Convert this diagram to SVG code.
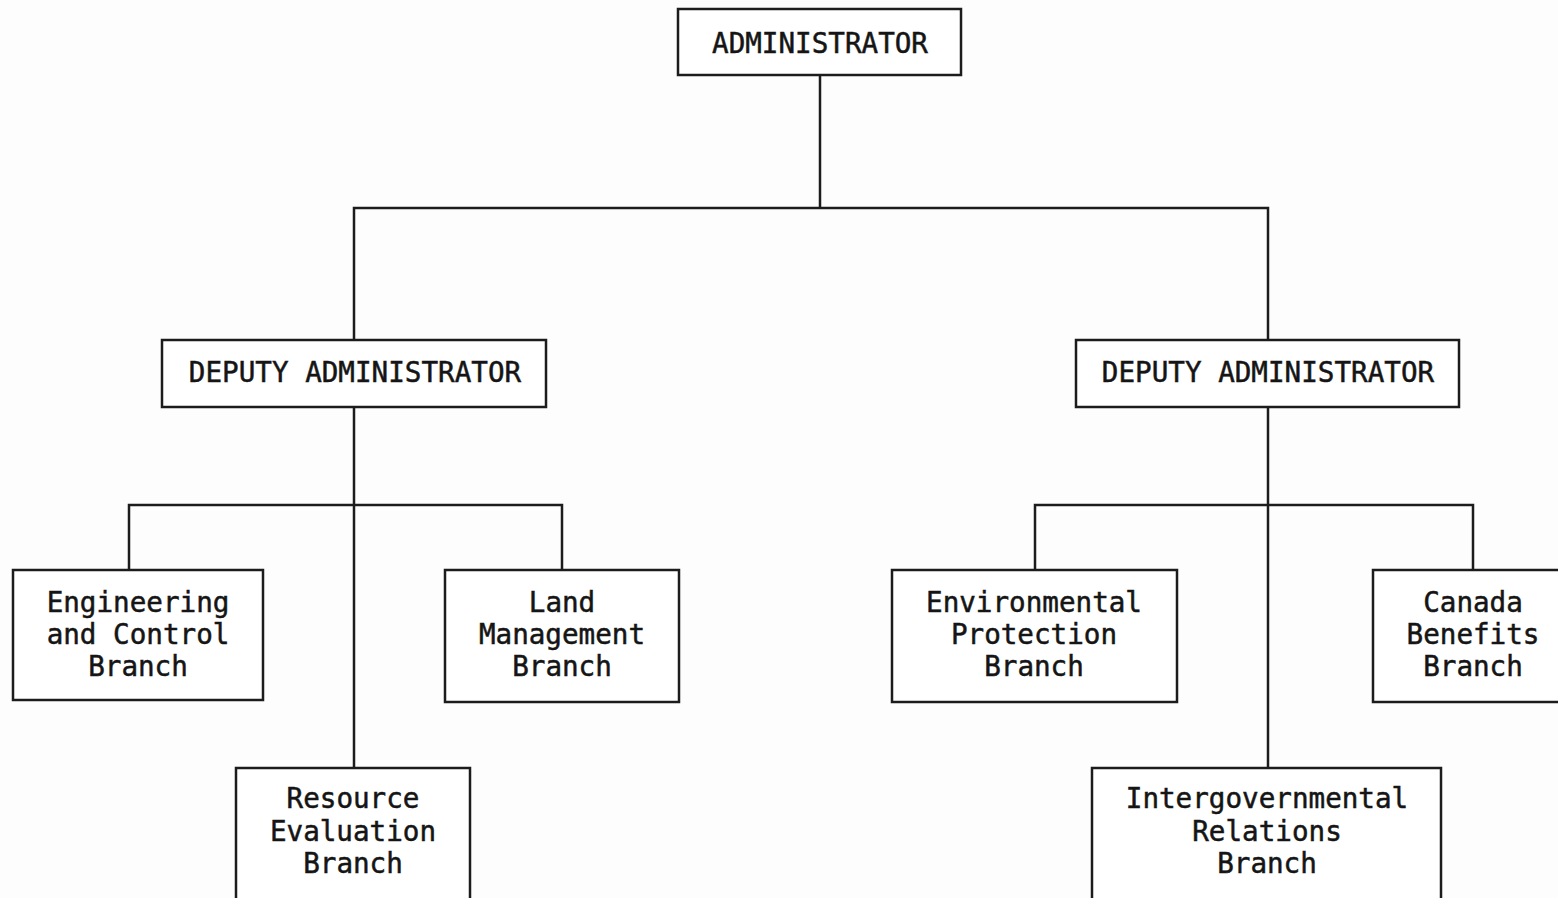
<svg xmlns="http://www.w3.org/2000/svg" width="1558" height="898" viewBox="0 0 1558 898">
  <style>
    .box { fill: #ffffff; stroke: #1c1c1c; stroke-width: 2.5; }
    .link { fill: none; stroke: #1c1c1c; stroke-width: 2.5; stroke-linecap: square; }
    .lbl { font-family: "DejaVu Sans Mono", "Liberation Mono", monospace; font-size: 27.6px; fill: #151515; stroke: #151515; stroke-width: 0.5; text-anchor: middle; }
  </style>
  <rect x="0" y="0" width="1558" height="898" fill="#fdfdfd"/>

  <!-- reporting lines -->
  <g id="connectors">
    <path class="link" d="M820,75 V208 M354,208 H1268 M354,208 V340 M1268,208 V340"/>
    <path class="link" d="M354,407 V768 M129,505 H562 M129,505 V570 M562,505 V570"/>
    <path class="link" d="M1268,407 V768 M1035,505 H1473 M1035,505 V570 M1473,505 V570"/>
  </g>

  <g id="administrator">
    <rect class="box" x="678" y="9" width="283" height="66"/>
    <text class="lbl" x="820" y="53">ADMINISTRATOR</text>
  </g>

  <g id="deputy-left">
    <rect class="box" x="162" y="340" width="384" height="67"/>
    <text class="lbl" x="355" y="382">DEPUTY ADMINISTRATOR</text>
  </g>

  <g id="deputy-right">
    <rect class="box" x="1076" y="340" width="383" height="67"/>
    <text class="lbl" x="1268" y="382">DEPUTY ADMINISTRATOR</text>
  </g>

  <g id="engineering">
    <rect class="box" x="13" y="570" width="250" height="130"/>
    <text class="lbl" x="138" y="612">Engineering</text>
    <text class="lbl" x="138" y="644">and Control</text>
    <text class="lbl" x="138" y="676">Branch</text>
  </g>

  <g id="land">
    <rect class="box" x="445" y="570" width="234" height="132"/>
    <text class="lbl" x="562" y="612">Land</text>
    <text class="lbl" x="562" y="644">Management</text>
    <text class="lbl" x="562" y="676">Branch</text>
  </g>

  <g id="resource">
    <rect class="box" x="236" y="768" width="234" height="132"/>
    <text class="lbl" x="353" y="808">Resource</text>
    <text class="lbl" x="353" y="841">Evaluation</text>
    <text class="lbl" x="353" y="873">Branch</text>
  </g>

  <g id="environmental">
    <rect class="box" x="892" y="570" width="285" height="132"/>
    <text class="lbl" x="1034" y="612">Environmental</text>
    <text class="lbl" x="1034" y="644">Protection</text>
    <text class="lbl" x="1034" y="676">Branch</text>
  </g>

  <g id="canada">
    <rect class="box" x="1373" y="570" width="200" height="132"/>
    <text class="lbl" x="1473" y="612">Canada</text>
    <text class="lbl" x="1473" y="644">Benefits</text>
    <text class="lbl" x="1473" y="676">Branch</text>
  </g>

  <g id="intergovernmental">
    <rect class="box" x="1092" y="768" width="349" height="132"/>
    <text class="lbl" x="1267" y="808">Intergovernmental</text>
    <text class="lbl" x="1267" y="841">Relations</text>
    <text class="lbl" x="1267" y="873">Branch</text>
  </g>
</svg>
